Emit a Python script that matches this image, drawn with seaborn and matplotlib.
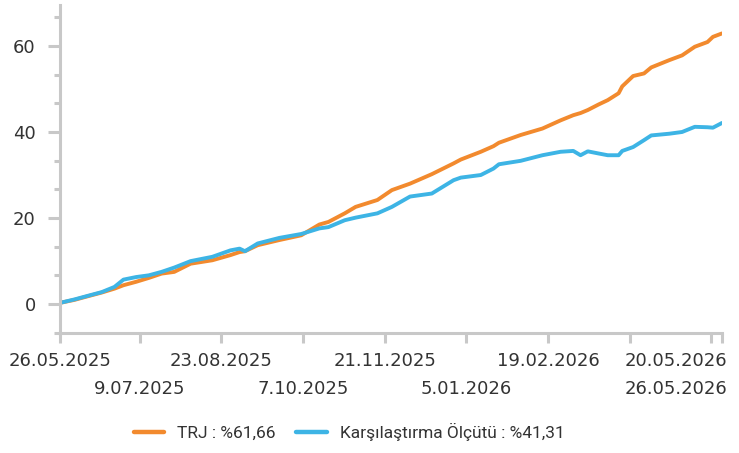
import pandas as pd
import matplotlib.pyplot as plt
from matplotlib.ticker import AutoMinorLocator
from matplotlib.transforms import ScaledTranslation
import seaborn as sns

# values
dates = [
    "2025-05-26", "2025-06-03", "2025-06-10", "2025-06-18", "2025-06-25", "2025-06-30",
    "2025-07-07", "2025-07-14", "2025-07-21", "2025-07-28", "2025-08-06", "2025-08-18",
    "2025-08-28", "2025-09-02", "2025-09-05", "2025-09-12", "2025-09-24", "2025-10-06",
    "2025-10-16", "2025-10-21", "2025-10-30", "2025-11-05", "2025-11-17", "2025-11-25",
    "2025-12-05", "2025-12-17", "2025-12-29", "2026-01-02", "2026-01-13", "2026-01-20",
    "2026-01-23", "2026-02-04", "2026-02-16", "2026-02-26", "2026-03-05", "2026-03-09",
    "2026-03-13", "2026-03-19", "2026-03-24", "2026-03-30", "2026-04-01", "2026-04-07",
    "2026-04-13", "2026-04-17", "2026-04-27", "2026-05-04", "2026-05-11", "2026-05-18",
    "2026-05-21", "2026-05-26",
]
trj = [
    0.3, 1.0, 1.8, 2.7, 3.6, 4.4,
    5.2, 6.1, 7.1, 7.5, 9.4, 10.2,
    11.4, 12.1, 12.3, 13.7, 14.9, 16.0,
    18.5, 19.1, 21.1, 22.6, 24.2, 26.5,
    28.0, 30.2, 32.7, 33.6, 35.4, 36.7,
    37.5, 39.3, 40.8, 42.7, 43.9, 44.4,
    45.1, 46.4, 47.4, 49.0, 50.6, 53.0,
    53.6, 55.0, 56.7, 57.8, 59.8, 60.9,
    62.1, 62.9,
]
benchmark = [
    0.3, 1.1, 1.9, 2.8, 4.0, 5.7,
    6.3, 6.7, 7.5, 8.5, 10.0, 11.0,
    12.5, 12.9, 12.3, 14.1, 15.4, 16.3,
    17.6, 17.9, 19.5, 20.1, 21.1, 22.6,
    25.0, 25.7, 28.8, 29.4, 30.0, 31.5,
    32.5, 33.3, 34.6, 35.4, 35.6, 34.6,
    35.5, 35.0, 34.6, 34.6, 35.6, 36.5,
    38.1, 39.2, 39.6, 40.0, 41.2, 41.1,
    41.0, 42.1,
]
tick_dates = ["2025-05-26", "2025-07-09", "2025-08-23", "2025-10-07", "2025-11-21",
              "2026-01-05", "2026-02-19", "2026-04-05", "2026-05-20", "2026-05-26"]
tick_labels = ["26.05.2025", "9.07.2025", "23.08.2025", "7.10.2025", "21.11.2025",
               "5.01.2026", "19.02.2026", "", "20.05.2026", "26.05.2026"]
series_names = ["TRJ : %61,66", "Karşılaştırma Ölçütü : %41,31"]

df = pd.DataFrame({"date": pd.to_datetime(dates), series_names[0]: trj, series_names[1]: benchmark})
df = df.melt(id_vars="date", var_name="seri", value_name="getiri")

sns.set_style("white")
plt.rcParams['font.family'] = ['DejaVu Sans']

grid_c = "#c8c8c8"
text_c = "#333333"
palette = {series_names[0]: "#f28a2e", series_names[1]: "#3db4e5"}

fig = plt.figure(figsize=(7.39, 4.53), dpi=100)
ax = fig.add_axes([60 / 739, 1 - 333 / 453, 662 / 739, 328 / 453])

sns.lineplot(data=df, x="date", y="getiri", hue="seri", palette=palette,
             linewidth=2.8, ax=ax, legend=False)

ax.set_xlim(pd.Timestamp("2025-05-26"), pd.Timestamp("2026-05-26"))
ax.set_ylim(-6.7, 69.5)
ax.set_xlabel("")
ax.set_ylabel("")

for s in ["top", "right"]:
    ax.spines[s].set_visible(False)
for s in ["left", "bottom"]:
    ax.spines[s].set_color(grid_c)
    ax.spines[s].set_linewidth(2.2)

ax.set_yticks([0, 20, 40, 60])
ax.yaxis.set_minor_locator(AutoMinorLocator(3))
ax.tick_params(axis="y", which="both", left=True)
ax.tick_params(axis="y", which="major", length=8.5, width=2.2, color=grid_c,
               labelsize=13, labelcolor=text_c, pad=9)
ax.tick_params(axis="y", which="minor", length=4.5, width=2.2, color=grid_c)

ax.set_xticks(pd.to_datetime(tick_dates))
ax.set_xticklabels(tick_labels)
ax.tick_params(axis="x", which="major", bottom=True, length=7.5, width=2.2, color=grid_c,
               labelsize=13, labelcolor=text_c, pad=6)
ax.tick_params(axis="x", which="minor", bottom=False)

# alternate the date labels on two rows; keep the last two inside the figure
for i, lab in enumerate(ax.get_xticklabels()):
    dx, dy = 0, 0
    if i % 2 == 1:
        dy = -28
    if i >= 8:
        lab.set_horizontalalignment("right")
        dx = 16 if i == 8 else 5
    if dx or dy:
        lab.set_transform(lab.get_transform() + ScaledTranslation(dx / 100, dy / 100, fig.dpi_scale_trans))

# legend
handles = [plt.Line2D([], [], color=palette[n], linewidth=3.2) for n in series_names]
fig.legend(handles, series_names, loc="center", bbox_to_anchor=(349 / 739, 1 - 432 / 453),
           ncol=2, frameon=False, handlelength=1.75, columnspacing=1.2, handletextpad=0.75,
           prop={"family": "Roboto", "size": 12.5}, labelcolor=text_c)

plt.savefig("out.png", dpi=100)
